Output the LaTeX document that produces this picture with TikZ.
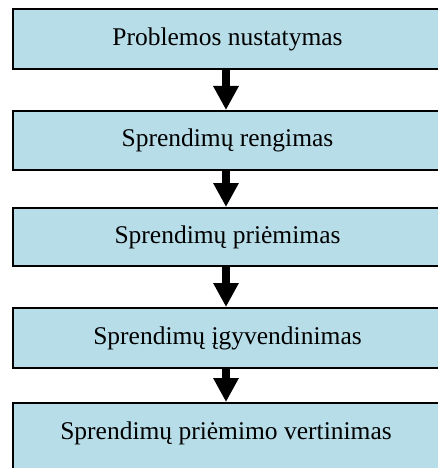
\documentclass[tikz,border=0pt]{standalone}
\usepackage{fontspec}
\setmainfont{Liberation Serif}
\usetikzlibrary{arrows.meta}
\definecolor{boxfill}{HTML}{B7DDE8}
\tikzset{
  stepbox/.style={draw=black, line width=2pt, fill=boxfill, minimum width=429pt, inner sep=0pt, font=\fontsize{25.5}{30}\selectfont},
  steptext/.style={inner sep=0pt, font=\fontsize{25.5}{30}\selectfont},
  flowarrow/.style={line width=8.5pt, -{Triangle[width=24pt,length=24pt]}}
}
\begin{document}
\begin{tikzpicture}[x=1pt,y=-1pt]
\useasboundingbox (0,0) rectangle (437,468);
\node[stepbox, minimum height=60pt] (b1) at (227.5,39) {Problemos nustatymas};
\node[stepbox, minimum height=59pt] (b2) at (227.5,140.5) {Sprendimų rengimas};
\node[stepbox, minimum height=58pt] (b3) at (227.5,237) {Sprendimų priėmimas};
\node[stepbox, minimum height=60pt] (b4) at (227.5,338) {Sprendimų įgyvendinimas};
\node[stepbox, minimum height=70pt] (b5) at (227.5,438) {};
\node[steptext] (t5) at (226,433) {Sprendimų priėmimo vertinimas};
\draw[flowarrow] (b1.south -| 226,0) -- (b2.north -| 226,0);
\draw[flowarrow] (b2.south -| 226,0) -- (b3.north -| 226,0);
\draw[flowarrow] (b3.south -| 226,0) -- (b4.north -| 226,0);
\draw[flowarrow] (b4.south -| 226,0) -- (b5.north -| 226,0);
\end{tikzpicture}
\end{document}
